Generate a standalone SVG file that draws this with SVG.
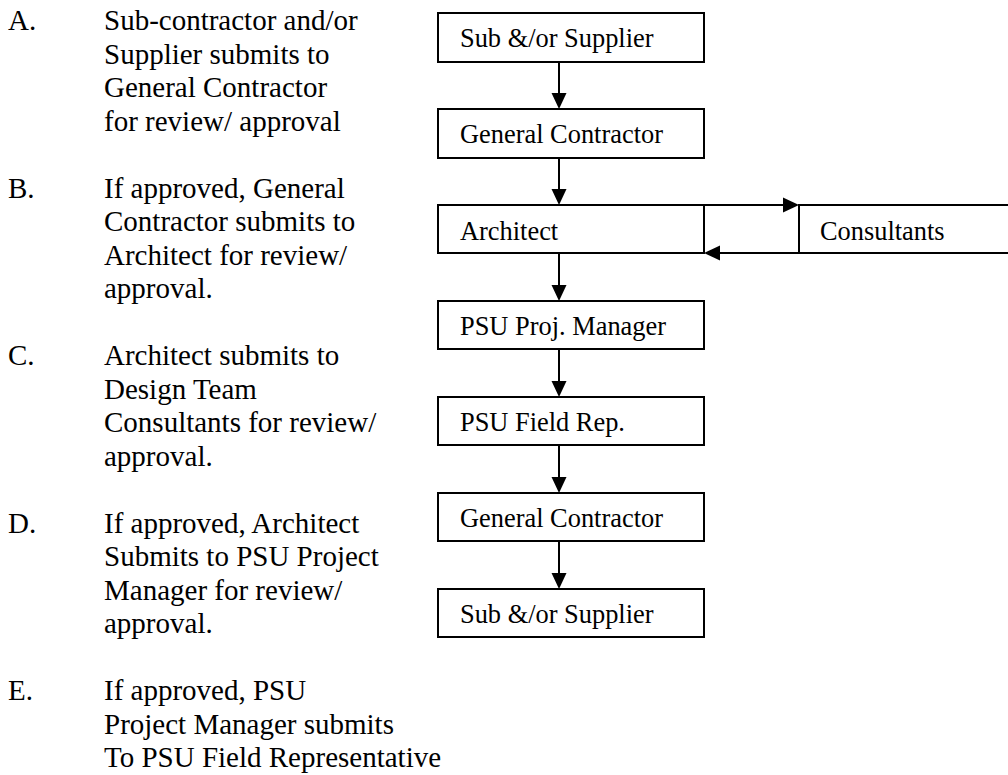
<svg xmlns="http://www.w3.org/2000/svg" width="1008" height="775" viewBox="0 0 1008 775">
<style>
.box{fill:#fff;stroke:#000;stroke-width:2}
.bt{font-family:"Liberation Serif","Times New Roman",serif;font-size:26.4px;fill:#000}
.lt{font-family:"Liberation Serif","Times New Roman",serif;font-size:29px;fill:#000}
.con{stroke:#000;stroke-width:2;fill:none;marker-end:url(#ah)}
</style>
<defs>
<marker id="ah" markerUnits="userSpaceOnUse" markerWidth="16" markerHeight="16" refX="0" refY="8" orient="auto" overflow="visible">
<path d="M0,0.5 L16,8 L0,15.5 z" fill="#000"/>
</marker>
</defs>
<rect width="1008" height="775" fill="#fff"/>
<g id="steps" font-family="Liberation Serif, Times New Roman, serif">
<text class="lt" x="8" y="30">A.</text>
<text class="lt" x="104" y="30">Sub-contractor and/or</text>
<text class="lt" x="104" y="63.5">Supplier submits to</text>
<text class="lt" x="104" y="97">General Contractor</text>
<text class="lt" x="104" y="130.5">for review/ approval</text>
<text class="lt" x="8" y="197.5">B.</text>
<text class="lt" x="104" y="197.5">If approved, General</text>
<text class="lt" x="104" y="231">Contractor submits to</text>
<text class="lt" x="104" y="264.5">Architect for review/</text>
<text class="lt" x="104" y="298">approval.</text>
<text class="lt" x="8" y="365">C.</text>
<text class="lt" x="104" y="365">Architect submits to</text>
<text class="lt" x="104" y="398.5">Design Team</text>
<text class="lt" x="104" y="432">Consultants for review/</text>
<text class="lt" x="104" y="465.5">approval.</text>
<text class="lt" x="8" y="532.5">D.</text>
<text class="lt" x="104" y="532.5">If approved, Architect</text>
<text class="lt" x="104" y="566">Submits to PSU Project</text>
<text class="lt" x="104" y="599.5">Manager for review/</text>
<text class="lt" x="104" y="633">approval.</text>
<text class="lt" x="8" y="700">E.</text>
<text class="lt" x="104" y="700">If approved, PSU</text>
<text class="lt" x="104" y="733.5">Project Manager submits</text>
<text class="lt" x="104" y="767">To PSU Field Representative</text>
</g>
<g id="connectors">
<line class="con" x1="559" y1="62" x2="559" y2="93"/>
<line class="con" x1="559" y1="158" x2="559" y2="189"/>
<line class="con" x1="559" y1="253" x2="559" y2="285"/>
<line class="con" x1="559" y1="349" x2="559" y2="381"/>
<line class="con" x1="559" y1="445" x2="559" y2="477"/>
<line class="con" x1="559" y1="541" x2="559" y2="573"/>
<line class="con" x1="704" y1="205" x2="783" y2="205"/>
<line class="con" x1="799" y1="253" x2="720" y2="253"/>
</g>
<g id="n1" font-family="Liberation Serif, Times New Roman, serif"><rect class="box" x="438" y="13" width="266" height="49"/><text class="bt" x="460" y="47">Sub &amp;/or Supplier</text></g>
<g id="n2" font-family="Liberation Serif, Times New Roman, serif"><rect class="box" x="438" y="109" width="266" height="49"/><text class="bt" x="460" y="143">General Contractor</text></g>
<g id="n3" font-family="Liberation Serif, Times New Roman, serif"><rect class="box" x="438" y="205" width="266" height="48"/><text class="bt" x="460" y="240">Architect</text></g>
<g id="n4" font-family="Liberation Serif, Times New Roman, serif"><rect class="box" x="799" y="205" width="230" height="48"/><text class="bt" x="820" y="240">Consultants</text></g>
<g id="n5" font-family="Liberation Serif, Times New Roman, serif"><rect class="box" x="438" y="301" width="266" height="48"/><text class="bt" x="460" y="335">PSU Proj. Manager</text></g>
<g id="n6" font-family="Liberation Serif, Times New Roman, serif"><rect class="box" x="438" y="397" width="266" height="48"/><text class="bt" x="460" y="431">PSU Field Rep.</text></g>
<g id="n7" font-family="Liberation Serif, Times New Roman, serif"><rect class="box" x="438" y="493" width="266" height="48"/><text class="bt" x="460" y="527">General Contractor</text></g>
<g id="n8" font-family="Liberation Serif, Times New Roman, serif"><rect class="box" x="438" y="589" width="266" height="48"/><text class="bt" x="460" y="623">Sub &amp;/or Supplier</text></g>
</svg>
